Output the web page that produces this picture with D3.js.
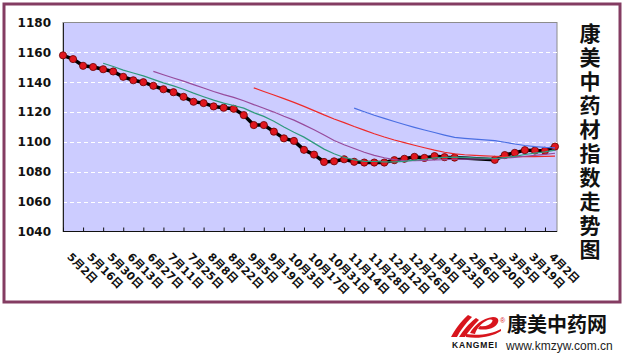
<!DOCTYPE html>
<html><head><meta charset="utf-8">
<script src="https://cdn.jsdelivr.net/npm/d3@7"></script>
<style>
html,body{margin:0;padding:0;background:#fff;}
svg{display:block;}
</style></head>
<body>
<svg id="chart" width="624" height="359"></svg>
<script>
const categories = ["5月2日","5月9日","5月16日","5月23日","5月30日","6月6日","6月13日","6月20日","6月27日","7月4日",
"7月11日","7月18日","7月25日","8月1日","8月8日","8月15日","8月22日","8月29日","9月5日","9月12日",
"9月19日","9月26日","10月3日","10月10日","10月17日","10月24日","10月31日","11月7日","11月14日","11月21日",
"11月28日","12月5日","12月12日","12月19日","12月26日","1月2日","1月9日","1月16日","1月23日","1月30日",
"2月6日","2月13日","2月20日","2月27日","3月5日","3月12日","3月19日","3月26日","4月2日","4月9日"];
const tickLabels = ["5月2日","5月16日","5月30日","6月13日","6月27日","7月11日","7月25日","8月8日","8月22日","9月5日",
"9月19日","10月3日","10月17日","10月31日","11月14日","11月28日","12月12日","12月26日","1月9日","1月23日",
"2月6日","2月20日","3月5日","3月19日","4月2日"];
const yTicks = [1040,1060,1080,1100,1120,1140,1160,1180];
const indexValues = [1158,1155.5,1151,1150.2,1148.7,1147.2,1143.6,1141.3,1140,1137.6,
1135.3,1133.3,1130.2,1126.9,1126,1123.8,1122.9,1122.2,1118,1111.3,
1111.3,1106.9,1102.4,1100.7,1094.7,1091.5,1086.6,1087,1088.4,1086.7,
1086.2,1086.2,1086.2,1087.8,1088.7,1090,1089.3,1090.5,1089.8,1089.5,
null,null,null,1088,1091.2,1092.7,1094.5,1094.2,1094.1,1096.9];
const ma5 = [null,null,null,null,1152.7,1150.5,1148.1,1146.2,1144.2,1141.9,
1139.6,1137.5,1135.3,1132.7,1130.3,1128.0,1126.0,1124.4,1122.6,1119.6,
1117.1,1113.9,1110.0,1106.5,1103.2,1099.2,1095.2,1092.1,1089.6,1088.0,
1087.0,1086.9,1086.7,1086.6,1087.0,1087.8,1088.4,1089.3,1089.7,1089.8,
1089.6,1089.4,1089.2,1088.9,1089.5,1090.3,1091.6,1092.5,1093.3,1094.5];
const ma10 = [null,null,null,null,null,null,null,null,null,1147.3,
1145.0,1142.8,1140.7,1138.4,1136.1,1133.8,1131.7,1129.8,1127.6,1125.0,
1122.6,1120.0,1117.2,1114.6,1111.4,1108.2,1104.6,1101.0,1098.1,1095.6,
1093.1,1091.0,1089.4,1088.1,1087.5,1087.4,1087.7,1088.0,1088.1,1088.4,
1088.5,1088.6,1088.7,1088.8,1089.2,1089.7,1090.4,1091.0,1091.6,1092.4];
const ma20 = [null,null,null,null,null,null,null,null,null,null,
null,null,null,null,null,null,null,null,null,1136.2,
1133.8,1131.4,1129.0,1126.5,1123.8,1121.0,1118.1,1115.4,1112.9,1110.3,
1107.9,1105.5,1103.3,1101.3,1099.5,1097.8,1096.1,1094.5,1093.1,1092.0,
1091.4,1091.0,1090.7,1090.4,1090.2,1090.1,1090.1,1090.2,1090.3,1090.5];
const ma30 = [null,null,null,null,null,null,null,null,null,null,
null,null,null,null,null,null,null,null,null,null,
null,null,null,null,null,null,null,null,null,1122.6,
1120.2,1117.9,1115.8,1113.7,1111.7,1109.8,1108.0,1106.3,1104.6,1103.0,
1102.4,1101.9,1101.4,1100.9,1099.8,1098.6,1097.6,1096.8,1096.3,1096.0];
const titleText = "康美中药材指数走势图";

const svg = d3.select("#chart");
svg.append("rect").attr("x",0).attr("y",0).attr("width",624).attr("height",359).attr("fill","#fff");
svg.append("rect").attr("x",4).attr("y",4).attr("width",616).attr("height",298)
  .attr("fill","#fff").attr("stroke","#843c62").attr("stroke-width",3);

const plot = {left:63, right:557, top:22.5, bottom:231.5};
const x = d3.scalePoint().domain(categories).range([63,555]);
const y = d3.scaleLinear().domain([1040,1180]).range([plot.bottom, plot.top]);

// plot background
svg.append("rect").attr("x",plot.left).attr("y",plot.top)
  .attr("width",plot.right-plot.left).attr("height",plot.bottom-plot.top)
  .attr("fill","#ccccff").attr("stroke","#8c8c8c").attr("stroke-width",1);

// gridlines
svg.append("g").selectAll("line").data(yTicks.filter(v=>v>1040 && v<1180)).join("line")
  .attr("x1",plot.left).attr("x2",plot.right)
  .attr("y1",d=>Math.round(y(d))+0.5).attr("y2",d=>Math.round(y(d))+0.5)
  .attr("stroke","#ffffff").attr("stroke-width",1).attr("stroke-dasharray","4,3");

// y axis
const yAxis = d3.axisLeft(y).tickValues(yTicks).tickSize(0).tickPadding(12).tickFormat(d3.format("d"));
const gy = svg.append("g").attr("transform",`translate(${plot.left},0)`).call(yAxis);
gy.select(".domain").attr("stroke","#222");
gy.selectAll("text").attr("font-family","'DejaVu Sans', Verdana, sans-serif")
  .attr("font-weight","bold").attr("font-size",12).attr("fill","#111");

// x axis
const xAxis = d3.axisBottom(x).tickValues(tickLabels).tickSizeInner(-4).tickSizeOuter(0).tickFormat("");
const gx = svg.append("g").attr("transform",`translate(0,${plot.bottom})`).call(xAxis);
gx.select(".domain").attr("stroke","#111").attr("d",`M${plot.left},0H${plot.right}`);
gx.selectAll(".tick line").attr("stroke","#111");
gx.selectAll(".tick").append("text")
  .attr("transform","translate(3,26) rotate(45)")
  .attr("text-anchor","start")
  .attr("font-family","'DejaVu Sans', 'Noto Sans CJK SC', sans-serif")
  .attr("font-weight","bold").attr("font-size",11).attr("fill","#111")
  .text(d=>d);

// main line
const pts = indexValues.map((v,i)=>({c:categories[i],v})).filter(d=>d.v!=null);
const line = d3.line().x(d=>x(d.c)).y(d=>y(d.v));
svg.append("path").datum(pts).attr("d",line).attr("fill","none")
  .attr("stroke","#000").attr("stroke-width",3.5).attr("stroke-linejoin","round");
svg.append("g").selectAll("circle").data(pts).join("circle")
  .attr("cx",d=>x(d.c)).attr("cy",d=>y(d.v)).attr("r",3.6)
  .attr("fill","#e0161f").attr("stroke","#6a0000").attr("stroke-width",0.8);

// moving averages
const maSeries = [
  {vals:ma30, color:"#4a6fe3"},
  {vals:ma20, color:"#ee2a2a"},
  {vals:ma10, color:"#974b9c"},
  {vals:ma5, color:"#2f9a7d"}
];
maSeries.forEach(s=>{
  const p = s.vals.map((v,i)=>({c:categories[i],v})).filter(d=>d.v!=null);
  svg.append("path").datum(p).attr("d",line).attr("fill","none")
    .attr("stroke",s.color).attr("stroke-width",1.2);
});

// title (vertical, one text element)
svg.append("text")
  .attr("x",590).attr("y",23)
  .attr("font-family","'Noto Sans CJK SC', sans-serif")
  .attr("font-weight","bold").attr("font-size",21).attr("fill","#111")
  .attr("letter-spacing",3)
  .style("writing-mode","vertical-rl")
  .style("glyph-orientation-vertical","0")
  .text(titleText);

// logo
const logo = svg.append("g");
logo.append("path").attr("d","M451,337 C455,330 460,322 468,315 L472,317 C465,324 460,331 457,337 Z").attr("fill","#d8151d");
logo.append("path").attr("d","M459,337 C463,331 468,324 476,318 L479,320 C473,326 468,332 465,337 Z").attr("fill","#d8151d");
logo.append("path").attr("d","M470,333 C474,326 482,318 493,317 C500,317 500,323 494,327 C489,330 482,330 478,329 L480,326 C485,327 490,325 492,322 C494,319 490,319 486,321 C480,324 476,330 475,334 Z").attr("fill","#d8151d");
logo.append("path").attr("d","M466,334 C478,336 492,334 501,329 L501,331 C492,337 478,339 466,337 Z").attr("fill","#d8151d");
logo.append("text").attr("x",500).attr("y",323).attr("font-size",7).attr("font-family","Arial, sans-serif").attr("fill","#d8151d").text("®");
logo.append("text").attr("x",452).attr("y",348).attr("font-size",8.5).attr("font-weight","900")
  .attr("font-family","'Liberation Sans', Arial, sans-serif").attr("fill","#111").attr("textLength",45).text("KANGMEI");
logo.append("text").attr("x",507).attr("y",332).attr("font-size",20).attr("font-weight","bold")
  .attr("font-family","'Noto Sans CJK SC', sans-serif").attr("fill","#111").text("康美中药网");
logo.append("text").attr("x",506).attr("y",349.5).attr("font-size",12)
  .attr("font-family","'Liberation Sans', Arial, sans-serif").attr("fill","#222").text("www.kmzyw.com.cn");
</script>
</body></html>
